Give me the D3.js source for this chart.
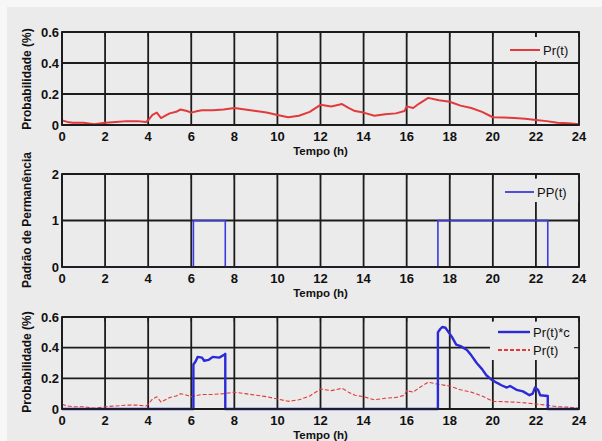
<!DOCTYPE html>
<html>
<head>
<meta charset="utf-8">
<script src="https://cdn.jsdelivr.net/npm/d3@7"></script>
<style>
html,body{margin:0;padding:0;background:#f7f7f7;}
svg{display:block;}
</style>
</head>
<body>
<svg id="chart" width="602" height="441"></svg>
<script>
// ---- Data ----
const hourTicks = [0,2,4,6,8,10,12,14,16,18,20,22,24];
const probTicks = [0,0.2,0.4,0.6];
const probTickLabels = ["0","0.2","0.4","0.6"];
const ppTicks = [0,1,2];
const ppTickLabels = ["0","1","2"];

// Pr(t)
const prTime = [0,0.25,0.5,1.0,1.5,2.0,2.5,3.0,3.5,3.9,4.0,4.2,4.4,4.6,4.8,5.0,5.3,5.5,5.8,6.0,6.3,6.5,7.0,7.5,8.0,8.5,9.0,9.5,10.0,10.5,11.0,11.5,12.0,12.5,13.0,13.3,13.6,14.0,14.5,15.0,15.5,15.9,16.0,16.3,16.6,17.0,17.5,18.0,18.5,19.0,19.5,20.0,20.5,21.0,21.5,22.0,22.5,23.0,23.5,24.0];
const prValue = [0.03,0.02,0.015,0.015,0.005,0.015,0.02,0.025,0.025,0.02,0.03,0.065,0.08,0.045,0.06,0.075,0.085,0.1,0.09,0.08,0.09,0.095,0.095,0.1,0.11,0.1,0.09,0.08,0.065,0.05,0.06,0.085,0.13,0.12,0.135,0.11,0.09,0.08,0.06,0.07,0.075,0.09,0.12,0.11,0.14,0.175,0.16,0.15,0.125,0.11,0.085,0.05,0.048,0.045,0.04,0.033,0.025,0.015,0.012,0.005];

// PP(t) (step after)
const ppTime = [0,6.1,7.58,17.45,22.55,24];
const ppValue = [0,1,0,1,0,0];

// Pr(t)*c
const prcTime = [0,6.1,6.1,6.2,6.3,6.5,6.6,6.8,7.0,7.3,7.55,7.58,7.58,17.45,17.45,17.55,17.65,17.8,17.95,18.1,18.3,18.5,18.8,19.0,19.25,19.5,19.7,19.95,20.2,20.4,20.65,20.8,21.1,21.4,21.7,21.85,21.96,22.1,22.2,22.55,22.55,24];
const prcValue = [0,0,0.29,0.31,0.34,0.335,0.315,0.32,0.34,0.335,0.355,0.36,0,0,0.50,0.52,0.535,0.53,0.50,0.47,0.42,0.41,0.385,0.35,0.30,0.26,0.22,0.19,0.17,0.155,0.14,0.15,0.125,0.115,0.09,0.10,0.14,0.125,0.09,0.085,0,0];

// ---- Drawing ----
const svg = d3.select("#chart");
const BG = "#ebebeb";
const RED = "#e23a3c";
const BLUE = "#2a2ad6";
const GRID = "#1c1c1c";
const FONT = "'Liberation Sans', Arial, sans-serif";

svg.append("rect").attr("x",7).attr("y",7).attr("width",595).attr("height",434).attr("fill",BG);

function panel(cfg){
  const x = d3.scaleLinear().domain([0,24]).range([62,579]);
  const y = d3.scaleLinear().domain(cfg.yDomain).range([cfg.y1, cfg.y0]);
  const g = svg.append("g");

  // grid
  g.selectAll(".vg").data(hourTicks).join("line")
    .attr("x1",d=>x(d)).attr("x2",d=>x(d))
    .attr("y1",y(cfg.yDomain[0])).attr("y2",y(cfg.yDomain[1]))
    .attr("stroke",GRID).attr("stroke-width",1.8);
  g.selectAll(".hg").data(cfg.yTicks).join("line")
    .attr("x1",x(0)).attr("x2",x(24))
    .attr("y1",d=>y(d)).attr("y2",d=>y(d))
    .attr("stroke",GRID).attr("stroke-width",1.8);

  // x tick labels
  g.selectAll(".xt").data(hourTicks).join("text")
    .attr("x",d=>x(d)).attr("y",cfg.y1+16)
    .attr("text-anchor","middle")
    .attr("font-family",FONT).attr("font-weight","bold").attr("font-size",13)
    .attr("fill","#111").text(d=>d);
  // y tick labels
  g.selectAll(".yt").data(cfg.yTicks).join("text")
    .attr("x",59).attr("y",d=>y(d)+4.5)
    .attr("text-anchor","end")
    .attr("font-family",FONT).attr("font-weight","bold").attr("font-size",13)
    .attr("fill","#111").text((d,i)=>cfg.yTickLabels[i]);

  // axis titles
  g.append("text").attr("x",(x(0)+x(24))/2).attr("y",cfg.y1+30)
    .attr("text-anchor","middle")
    .attr("font-family",FONT).attr("font-weight","bold").attr("font-size",11.5)
    .attr("fill","#111").text("Tempo (h)");
  g.append("text")
    .attr("transform",`translate(31,${cfg.labelY}) rotate(-90)`)
    .attr("text-anchor","middle")
    .attr("font-family",FONT).attr("font-weight","bold").attr("font-size",12)
    .attr("fill","#111").text(cfg.yLabel);

  // series
  cfg.series.forEach(s=>{
    const line = d3.line().x(d=>x(d[0])).y(d=>y(d[1]));
    if(s.step) line.curve(d3.curveStepAfter);
    g.append("path").datum(s.t.map((t,i)=>[t,s.v[i]]))
      .attr("d",line).attr("fill","none")
      .attr("stroke",s.color).attr("stroke-width",s.width)
      .attr("stroke-dasharray",s.dash||null)
      .attr("stroke-linejoin","round");
  });

  // legend
  const L = cfg.legend;
  g.append("rect").attr("x",L.x0).attr("y",L.y0).attr("width",579-L.x0).attr("height",L.y1-L.y0).attr("fill",BG);
  cfg.series.slice().sort((a,b)=>a.legendOrder-b.legendOrder).forEach((s,i)=>{
    const ly = L.firstY + i*18;
    g.append("line").attr("x1",L.lx0).attr("x2",L.lx1).attr("y1",ly).attr("y2",ly)
      .attr("stroke",s.color).attr("stroke-width",Math.max(1.8,s.width)).attr("stroke-dasharray",s.dash||null);
    g.append("text").attr("x",L.lx1+3).attr("y",ly+4.5)
      .attr("font-family",FONT).attr("font-size",13).attr("fill","#111").text(s.name);
  });

  // small inner ticks on top/right
  g.selectAll(".tt").data(hourTicks).join("line")
    .attr("x1",d=>x(d)).attr("x2",d=>x(d))
    .attr("y1",cfg.y0).attr("y2",cfg.y0+5)
    .attr("stroke",GRID).attr("stroke-width",1.2);
  g.selectAll(".rt").data(cfg.yTicks).join("line")
    .attr("x1",x(24)-5).attr("x2",x(24))
    .attr("y1",d=>y(d)).attr("y2",d=>y(d))
    .attr("stroke",GRID).attr("stroke-width",1.2);
  // frame
  g.append("rect").attr("x",x(0)).attr("y",cfg.y0).attr("width",x(24)-x(0)).attr("height",cfg.y1-cfg.y0)
    .attr("fill","none").attr("stroke",GRID).attr("stroke-width",1.8);
}

panel({
  y0:32, y1:125, yDomain:[0,0.6], yTicks:probTicks, yTickLabels:probTickLabels,
  yLabel:"Probabilidade (%)", labelY:79,
  series:[{name:"Pr(t)", t:prTime, v:prValue, color:RED, width:2, legendOrder:0}],
  legend:{x0:505,y0:37,y1:61,lx0:510,lx1:540,firstY:50}
});
panel({
  y0:174, y1:267, yDomain:[0,2], yTicks:ppTicks, yTickLabels:ppTickLabels,
  yLabel:"Padrão de Permanência", labelY:220,
  series:[{name:"PP(t)", t:ppTime, v:ppValue, color:"#3b3be0", width:1.6, step:true, legendOrder:0}],
  legend:{x0:500,y0:178,y1:202,lx0:505,lx1:534,firstY:192}
});
panel({
  y0:317, y1:409, yDomain:[0,0.6], yTicks:probTicks, yTickLabels:probTickLabels,
  yLabel:"Probabilidade (%)", labelY:362,
  series:[
    {name:"Pr(t)", t:prTime, v:prValue, color:RED, width:1.1, dash:"4,2", legendOrder:1},
    {name:"Pr(t)*c", t:prcTime, v:prcValue, color:BLUE, width:2.4, legendOrder:0}
  ],
  legend:{x0:490,y0:321,y1:360,lx0:498,lx1:530,firstY:332}
});
</script>
</body>
</html>
